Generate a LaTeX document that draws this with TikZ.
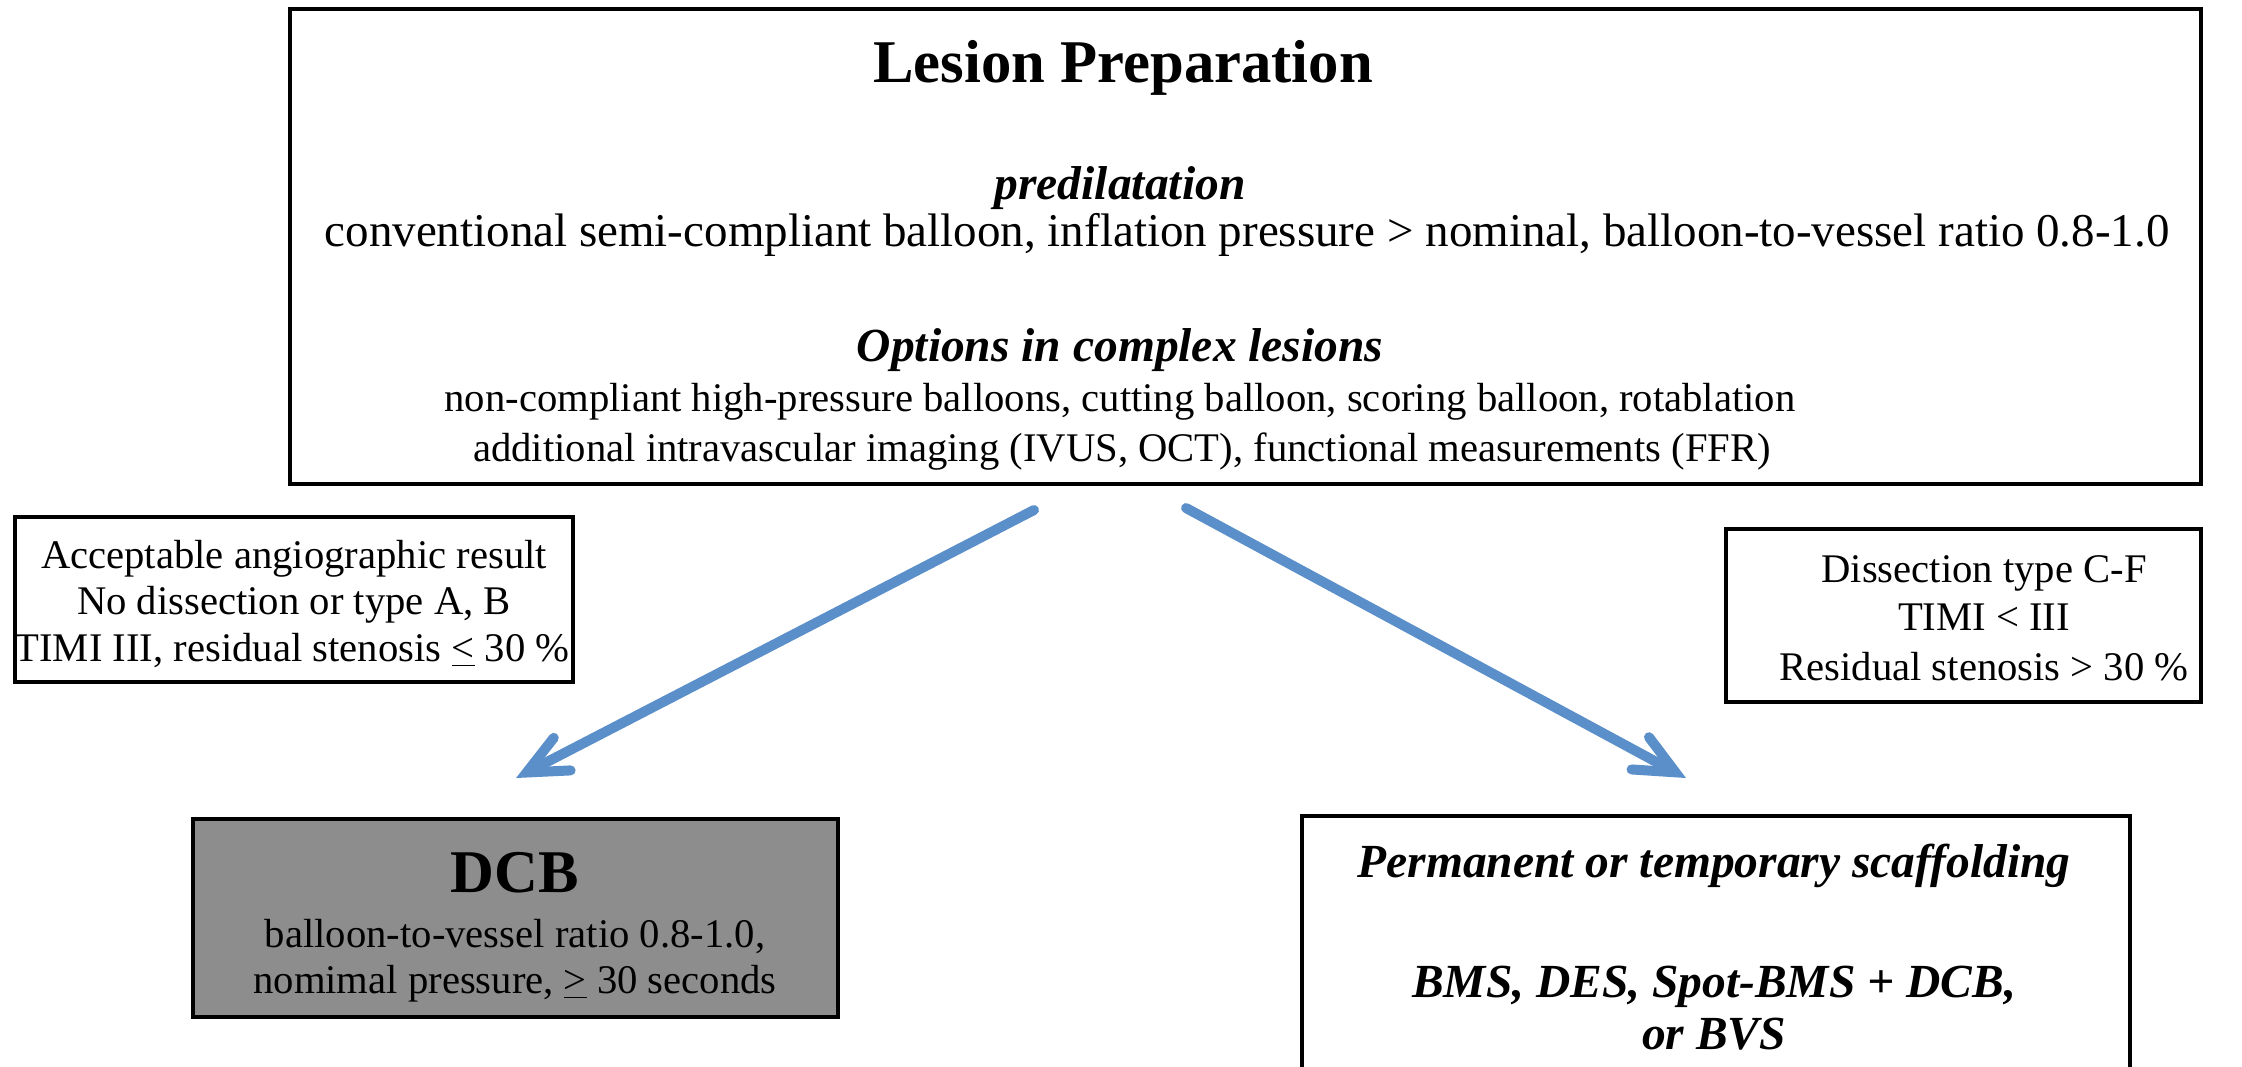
\documentclass[tikz,border=0pt]{standalone}
\usepackage{fontspec}
\setmainfont{Liberation Serif}
\usetikzlibrary{arrows.meta}
\definecolor{arrowblue}{RGB}{91,143,201}
\definecolor{dcbgray}{RGB}{141,141,141}
\tikzset{
  frame/.style={draw=black, line width=1pt, inner sep=0pt},
  txt/.style={anchor=base, inner sep=0pt, font=\fontsize{12.2}{14}\selectfont},
  txtl/.style={anchor=base, inner sep=0pt, font=\fontsize{14.1}{16}\selectfont},
  head/.style={anchor=base, inner sep=0pt, font=\fontsize{14.25}{16}\selectfont\bfseries\itshape},
  big/.style={anchor=base, inner sep=0pt, font=\fontsize{18.2}{20}\selectfont\bfseries},
  flow/.style={draw=arrowblue, line width=3pt, line cap=round,
    -{Straight Barb[length=12pt,width=11pt,line cap=round,line join=miter]}}
}
\begin{document}
\begin{tikzpicture}[x=0.3pt,y=-0.3pt]
\useasboundingbox (0,0) rectangle (2242,1066);
\begin{scope}
\clip (0,0) rectangle (2242,1066);
% boxes
\node[frame, minimum width=573.3pt, minimum height=142.5pt] (main) at (1245.5,246.5) {};
\node[frame, minimum width=167.4pt, minimum height=49.5pt] (acc) at (294,599.5) {};
\node[frame, minimum width=142.5pt, minimum height=51.9pt] (dis) at (1963.5,615.5) {};
\node[frame, fill=dcbgray, minimum width=193.5pt, minimum height=59.4pt] (dcb) at (515.5,918) {};
\node[frame, minimum width=248.4pt, minimum height=91.2pt] (scaf) at (1716,968) {};
\end{scope}
% main box text
\node[big] (t1) at (1123,82) {Lesion Preparation};
\node[head] (t2) at (1120,199) {predilatation};
\node[txtl] (t3) at (1247,246) {conventional semi-compliant balloon, inflation pressure > nominal, balloon-to-vessel ratio 0.8-1.0};
\node[head] (t4) at (1120,361) {Options in complex lesions};
\node[txt] (t5) at (1120,411) {non-compliant high-pressure balloons, cutting balloon, scoring balloon, rotablation};
\node[txt] (t6) at (1122,461) {additional intravascular imaging (IVUS, OCT), functional measurements (FFR)};
% left condition box
\node[txt] (a1) at (294,568) {Acceptable angiographic result};
\node[txt] (a2) at (294,614) {No dissection or type A, B};
\node[txt] (a3) at (292,661) {TIMI III, residual stenosis \underline{<} 30 \%};
% right condition box
\node[txt] (d1) at (1984,582) {Dissection type C-F};
\node[txt] (d2) at (1984,630) {TIMI < III};
\node[txt] (d3) at (1984,680) {Residual stenosis > 30 \%};
% DCB box
\node[big] (b1) at (515,892) {DCB};
\node[txt] (b2) at (515,947) {balloon-to-vessel ratio 0.8-1.0,};
\node[txt] (b3) at (515,993) {nomimal pressure, \underline{>} 30 seconds};
% scaffolding box
\node[head] (s1) at (1714,877) {Permanent or temporary scaffolding};
\node[head] (s2) at (1714,997) {BMS, DES, Spot-BMS + DCB,};
\node[head] (s3) at (1714,1049) {or BVS};
% arrows
\coordinate (la) at (1034,510);
\coordinate (lb) at (516,778);
\coordinate (ra) at (1186,508);
\coordinate (rb) at (1686,778);
\draw[flow] (la) -- (lb);
\draw[flow] (ra) -- (rb);
\end{tikzpicture}
\end{document}
